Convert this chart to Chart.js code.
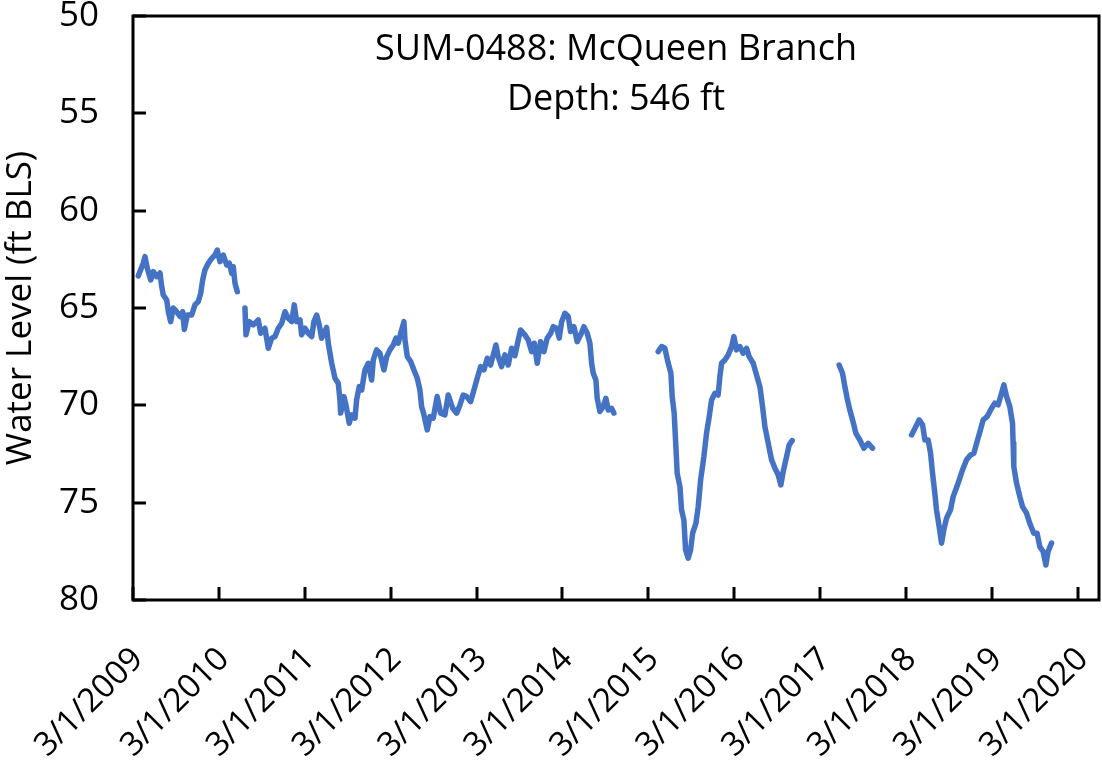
<!DOCTYPE html>
<html>
<head>
<meta charset="utf-8">
<script src="https://cdn.jsdelivr.net/npm/chart.js@4.4.1/dist/chart.umd.min.js"></script>
<style>
html,body{margin:0;padding:0;background:#fff;}
#wrap{width:1102px;height:764px;}
</style>
</head>
<body>
<div id="wrap"><canvas id="chart" width="1102" height="764"></canvas></div>
<script>
const wellName = "SUM-0488: McQueen Branch";
const wellDepth = "Depth: 546 ft";
const yTitle = "Water Level (ft BLS)";

const tickYears = [2009,2010,2011,2012,2013,2014,2015,2016,2017,2018,2019,2020];
const tickLabels = ["3/1/2009","3/1/2010","3/1/2011","3/1/2012","3/1/2013","3/1/2014",
  "3/1/2015","3/1/2016","3/1/2017","3/1/2018","3/1/2019","3/1/2020"];
const levelTicks = [50,55,60,65,70,75,80];

// decimal year of each reading; a null level marks a gap in the record
const years = [
  2009.223,2009.281,2009.301,2009.328,2009.368,2009.398,2009.438,2009.476,2009.496,2009.514,
  2009.554,2009.573,2009.600,2009.631,2009.670,2009.709,2009.740,2009.759,2009.794,2009.845,
  2009.883,2009.922,2009.950,2009.973,2009.999,2010.038,2010.078,2010.116,2010.143,2010.174,
  2010.213,2010.252,2010.283,2010.311,2010.329,2010.349,2010.376,
  2010.42,
  2010.465,2010.477,2010.515,2010.562,2010.620,2010.648,2010.698,2010.737,2010.776,2010.815,
  2010.853,2010.893,2010.931,2010.969,2011.009,2011.039,2011.067,2011.106,2011.125,2011.164,
  2011.202,2011.242,2011.268,2011.300,2011.330,2011.358,2011.416,2011.435,2011.475,2011.513,
  2011.551,2011.571,2011.579,2011.618,2011.641,2011.679,2011.707,2011.746,2011.765,2011.796,
  2011.824,2011.862,2011.901,2011.940,2011.959,2011.998,2012.036,2012.083,2012.115,2012.153,
  2012.192,2012.223,2012.249,2012.278,2012.316,2012.328,2012.355,2012.394,2012.432,2012.471,
  2012.502,2012.522,2012.549,2012.587,2012.619,2012.657,2012.703,2012.743,2012.793,2012.832,
  2012.883,2012.930,2012.968,2013.006,2013.046,2013.092,2013.131,2013.169,2013.209,2013.247,
  2013.286,2013.325,2013.356,2013.387,2013.413,2013.453,2013.491,2013.530,2013.570,2013.608,
  2013.647,2013.674,2013.724,2013.763,2013.803,2013.833,2013.868,2013.907,2013.946,2013.984,
  2014.024,2014.054,2014.094,2014.124,2014.152,2014.190,2014.229,2014.256,2014.295,2014.333,
  2014.373,2014.411,2014.450,2014.481,2014.501,2014.520,2014.551,2014.566,2014.597,2014.636,
  2014.667,2014.694,2014.733,2014.760,
  2015.0,
  2015.276,2015.316,2015.354,2015.393,2015.424,2015.439,2015.462,2015.482,2015.497,2015.529,
  2015.548,2015.575,2015.595,2015.625,2015.653,2015.677,2015.715,2015.742,2015.770,2015.808,
  2015.839,2015.870,2015.898,2015.936,2015.974,2015.994,2016.014,2016.052,2016.091,2016.131,
  2016.157,2016.188,2016.227,2016.265,2016.305,2016.335,2016.382,2016.421,2016.460,2016.491,
  2016.518,2016.557,2016.596,2016.635,2016.673,2016.704,2016.731,2016.771,2016.801,2016.836,
  2017.1,
  2017.383,2017.422,2017.449,2017.476,2017.507,2017.539,2017.577,2017.624,2017.671,2017.721,
  2017.771,
  2018.0,
  2018.226,2018.276,2018.314,2018.354,2018.381,2018.419,2018.447,2018.470,2018.497,2018.516,
  2018.547,2018.575,2018.601,2018.633,2018.679,2018.710,2018.768,2018.819,2018.866,2018.912,
  2018.951,2018.989,2019.028,2019.059,2019.105,2019.157,2019.195,2019.233,2019.273,2019.300,
  2019.332,2019.370,2019.401,2019.408,2019.416,2019.448,2019.486,2019.517,2019.564,2019.602,
  2019.649,2019.687,2019.719,2019.757,2019.789,2019.815,2019.855
];

const levels = [
  63.35,62.70,62.36,62.96,63.56,63.13,63.39,63.20,63.90,64.33,
  64.59,65.19,65.70,65.00,65.19,65.44,65.19,66.10,65.36,65.36,
  64.84,64.67,64.24,63.56,63.05,62.70,62.45,62.28,62.02,62.62,
  62.28,62.79,62.70,63.22,62.88,63.73,64.16,
  null,
  65.00,66.38,65.70,65.87,65.61,66.30,66.04,67.07,66.55,66.47,
  66.04,65.78,65.19,65.53,65.70,64.84,65.70,65.61,66.38,66.04,
  66.30,66.47,65.70,65.36,65.87,66.55,66.00,66.81,67.84,68.61,
  68.87,69.72,70.40,69.55,69.98,70.92,70.49,70.66,69.72,69.04,
  69.21,68.18,67.84,68.70,67.67,67.15,67.32,68.18,67.50,67.15,
  66.90,66.55,66.81,66.30,65.70,66.64,67.50,67.75,68.18,68.61,
  69.21,70.07,70.49,71.26,70.58,70.66,69.55,70.40,70.49,69.47,
  70.15,70.40,69.98,69.47,69.55,69.81,69.21,68.61,68.01,68.18,
  67.58,67.93,67.41,66.90,67.50,68.01,67.41,67.93,67.07,67.45,
  66.64,66.13,66.38,66.64,67.24,66.81,67.84,66.73,67.24,66.55,
  66.30,65.96,66.04,66.55,65.70,65.27,65.44,66.21,65.96,66.73,
  66.38,65.96,66.30,66.81,67.84,68.35,68.70,69.64,70.32,70.07,
  69.64,70.24,70.15,70.40,
  null,
  67.24,66.98,67.07,67.84,68.35,69.55,70.40,72.12,73.49,74.17,
  75.37,75.89,77.43,77.85,77.43,76.57,76.06,75.20,73.83,72.63,
  71.43,70.58,69.72,69.38,69.47,68.53,67.84,67.67,67.41,66.98,
  66.47,67.15,66.98,67.32,67.07,67.50,67.84,68.44,69.04,70.07,
  71.09,71.95,72.80,73.23,73.57,74.09,73.40,72.63,72.03,71.81,
  null,
  67.93,68.35,69.04,69.64,70.24,70.75,71.43,71.78,72.20,71.95,
  72.20,
  null,
  71.52,71.09,70.75,71.00,71.78,71.78,72.46,73.49,74.52,75.37,
  76.23,77.08,76.40,75.80,75.37,74.69,74.00,73.32,72.80,72.55,
  72.46,71.86,71.26,70.75,70.58,70.15,69.89,69.98,69.38,68.95,
  69.55,70.07,70.92,71.95,73.15,74.00,74.69,75.20,75.54,76.06,
  76.57,76.57,77.26,77.51,78.20,77.51,77.08
];

function marchFirst(y){
  const start = Date.UTC(y,0,1);
  return y + (Date.UTC(y,2,1) - start) / (Date.UTC(y+1,0,1) - start);
}

const FONT = '"Open Sans", "Noto Sans", sans-serif';
const xMin = marchFirst(2009);
const xMax = marchFirst(2020) + 0.244;

function noPadding(s){
  s.paddingTop = 0;
  s.paddingBottom = 0;
  s.paddingLeft = 0;
  s.paddingRight = 0;
}

// frame, inward tick marks and the well caption inside the plot
const framePlugin = {
  id: "frame",
  afterDraw(chart){
    const {ctx, chartArea: a, scales} = chart;
    ctx.save();
    ctx.strokeStyle = "#000";
    ctx.lineWidth = 3;
    ctx.lineCap = "butt";
    ctx.beginPath();
    levelTicks.forEach(v => {
      const py = Math.round(scales.y.getPixelForValue(v));
      ctx.moveTo(a.left, py);
      ctx.lineTo(a.left + 13, py);
    });
    tickYears.forEach(y => {
      const px = Math.round(scales.x.getPixelForValue(marchFirst(y)));
      ctx.moveTo(px, a.bottom);
      ctx.lineTo(px, a.bottom - 13);
    });
    ctx.stroke();
    ctx.strokeRect(a.left, a.top, a.right - a.left, a.bottom - a.top);

    ctx.fillStyle = "#000";
    ctx.font = "36px " + FONT;
    ctx.textAlign = "center";
    ctx.textBaseline = "middle";
    const cx = (a.left + a.right) / 2;
    ctx.fillText(wellName, cx, 50);
    ctx.fillText(wellDepth, cx, 100);
    ctx.restore();
  }
};

new Chart(document.getElementById("chart"), {
  type: "line",
  data: {
    datasets: [{
      label: wellName,
      data: years.map((x, i) => ({x: x, y: levels[i]})),
      borderColor: "#4472C4",
      borderWidth: 5.5,
      borderCapStyle: "round",
      borderJoinStyle: "round",
      pointRadius: 0,
      tension: 0,
      spanGaps: false
    }]
  },
  options: {
    responsive: false,
    devicePixelRatio: 1,
    animation: false,
    layout: {padding: {top: 16, right: 3, left: 0, bottom: 0}},
    plugins: {legend: {display: false}, tooltip: {enabled: false}},
    scales: {
      x: {
        type: "linear",
        min: xMin,
        max: xMax,
        afterBuildTicks: s => { s.ticks = tickYears.map(y => ({value: marchFirst(y)})); },
        afterFit: s => { s.height = 164; noPadding(s); },
        grid: {display: false, drawTicks: false},
        border: {display: false},
        ticks: {
          autoSkip: false,
          minRotation: 45,
          maxRotation: 45,
          padding: 40,
          labelOffset: 5,
          color: "#000",
          font: {family: FONT, size: 33},
          callback: (v, i) => tickLabels[i]
        }
      },
      y: {
        reverse: true,
        min: 50,
        max: 80,
        afterBuildTicks: s => { s.ticks = levelTicks.map(v => ({value: v})); },
        afterFit: s => { s.width = 133; noPadding(s); },
        grid: {display: false, drawTicks: false},
        border: {display: false},
        ticks: {
          padding: 34,
          color: "#000",
          font: {family: FONT, size: 35}
        },
        title: {
          display: true,
          text: yTitle,
          color: "#000",
          font: {family: FONT, size: 35},
          padding: {top: 0, bottom: 0}
        }
      }
    }
  },
  plugins: [framePlugin]
});
</script>
</body>
</html>
